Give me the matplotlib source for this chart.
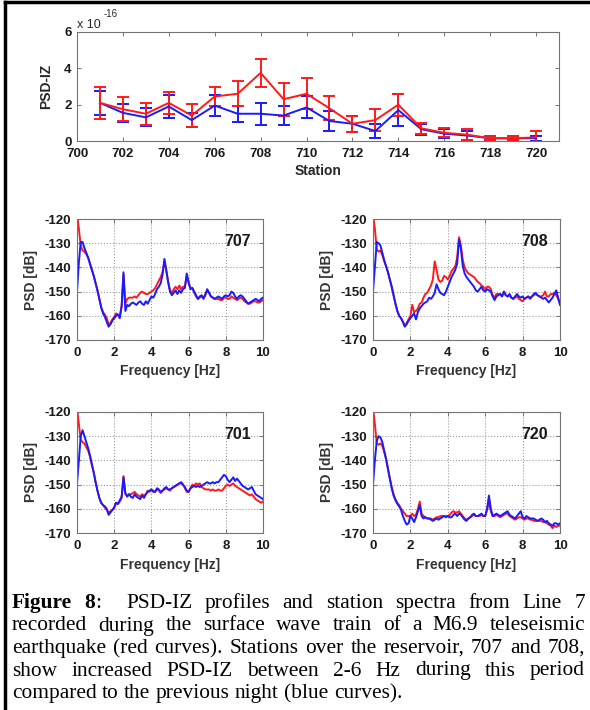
import numpy as np
import matplotlib
matplotlib.use('Agg')
import matplotlib.pyplot as plt
from matplotlib.lines import Line2D

plt.rcParams['font.family'] = ['Liberation Sans', 'DejaVu Sans']
plt.rcParams['axes.unicode_minus'] = False

# ---- PSD-IZ profile along Line 7 (units of 1e-16) ----
stations = list(range(701, 721))
psdiz_red = [2.1, 1.75, 1.5, 2.1, 1.4, 2.45, 2.6, 3.75, 2.3, 2.6,
             1.8, 0.95, 1.15, 2.0, 0.7, 0.45, 0.35, 0.15, 0.15, 0.2]
psdiz_red_err = [0.9, 0.65, 0.6, 0.6, 0.65, 0.55, 0.7, 0.78, 0.9, 0.85,
                 0.65, 0.45, 0.6, 0.6, 0.3, 0.25, 0.3, 0.1, 0.1, 0.35]
psdiz_blue = [2.1, 1.55, 1.3, 1.9, 1.15, 1.95, 1.5, 1.5, 1.4, 1.85,
              1.1, 0.95, 0.55, 1.7, 0.65, 0.4, 0.3, 0.15, 0.15, 0.15]
psdiz_blue_err = [0.65, 0.5, 0.5, 0.65, 0.4, 0.6, 0.45, 0.6, 0.5, 0.6,
                  0.55, 0.45, 0.4, 0.87, 0.3, 0.25, 0.25, 0.1, 0.1, 0.15]

# ---- station spectra, PSD [dB] every 0.1 Hz from 0 to 10 Hz ----
freq = np.round(np.arange(0, 101) * 0.1, 1)

red_707 = [-118, -124, -131, -133, -133.5, -134.5, -136, -138.5, -141, -143.5,
           -146.5, -149.5, -153, -156.5, -158.5, -159.5, -161, -163.5, -163, -161.5,
           -160.5, -159, -159.5, -160, -156, -143, -155, -153, -152.5, -152.5,
           -152.5, -152, -152.5, -151.5, -150.5, -150, -150.5, -151, -151, -150.5,
           -150, -149.5, -148.5, -147, -145.5, -144, -142, -137.5, -141.5, -146,
           -149.5, -150.5, -149, -148, -149, -147.5, -149, -148, -148, -143.5,
           -146.5, -148.5, -148.5, -150.5, -152, -153, -152.5, -152, -152.5, -151,
           -149.5, -150.5, -152, -152.5, -153, -153, -153, -153.5, -153.5, -152.5,
           -152.5, -153, -153, -152, -152.5, -153, -153.5, -153, -152.5, -153,
           -154, -154.5, -155, -155, -154.5, -154, -154, -154.5, -154.5, -154,
           -153.5]
blue_707 = [-150, -138, -129.5, -129.5, -132, -134, -136, -138.5, -141, -143.5,
            -146.5, -149.5, -153, -156.5, -159, -160.5, -162.5, -164.5, -163.5, -162,
            -161, -160, -159.5, -161, -156, -142, -158, -155.5, -156, -155,
            -154.5, -155, -155.5, -154.5, -154, -155, -155.5, -154, -155, -153.5,
            -152, -152.5, -151, -149, -148, -146.5, -143, -136.5, -141, -146,
            -150, -151.5, -150.5, -149.5, -151, -149.5, -150.5, -149, -148.5, -142.5,
            -146, -149, -148.5, -150, -151.5, -153, -152, -151.5, -153, -151.5,
            -149, -150.5, -152, -152.5, -153, -152.5, -152, -152.5, -153, -152,
            -151.5, -152, -151.5, -150, -150.5, -152, -153, -152, -151.5, -152,
            -153, -154, -155, -154.5, -154, -153.5, -153, -153.5, -154, -153,
            -152.5]

red_708 = [-118, -124, -132.5, -133.5, -133, -135, -137.5, -139.5, -142, -145,
           -148, -151.5, -155, -158, -160, -161, -162.5, -164, -163, -161.5,
           -160, -155.5, -158.5, -158, -157, -155, -154.5, -152.5, -151, -150.5,
           -149, -147.5, -145, -137.5, -141, -145, -146, -145.5, -143.5, -144,
           -145, -143.5, -141.5, -140.5, -139.5, -136, -127.5, -131, -137, -140,
           -141.5, -142.5, -143, -143.5, -144, -145, -146, -146.5, -147.5, -148,
           -149, -148, -148, -149, -151.5, -152.5, -151, -151, -151, -152,
           -150, -151.5, -152, -151.5, -152.5, -153, -152.5, -152, -153, -153.5,
           -154, -153, -152.5, -152, -152.5, -152, -151.5, -151, -151.5, -152,
           -152, -151.5, -150, -152, -152, -151, -151, -150.5, -151.5, -153,
           -155]
blue_708 = [-150, -140, -129.5, -130, -131, -134, -137, -139.5, -142, -145,
            -148, -151.5, -155, -158, -160, -161, -162.5, -164.5, -163.5, -162,
            -161, -160, -159, -161.5, -158.5, -157, -156, -155, -154.5, -154,
            -152.5, -153, -152, -150.5, -147, -149, -150.5, -151, -151.5, -150,
            -148, -146, -144, -142.5, -141, -138.5, -128.5, -132, -139.5, -142.5,
            -144, -145, -146, -147, -148, -149.5, -150, -149, -148, -149.5,
            -150, -149, -149.5, -150, -152, -153.5, -152, -151.5, -151, -152,
            -150, -151.5, -152, -151, -152.5, -153, -152, -151, -152, -152.5,
            -152, -153, -152.5, -152, -153, -152, -151, -150.5, -151.5, -152,
            -152.5, -153, -152.5, -153.5, -154.5, -153.5, -152.5, -151, -149.5, -152.5,
            -155.5]

red_701 = [-118, -125, -131.5, -132.5, -133, -134.5, -136, -138.5, -142, -145,
           -149, -152.5, -155.5, -157.5, -158.5, -159.5, -160.5, -161.5, -161, -160.5,
           -159.5, -157.5, -158, -157, -155.5, -146.5, -154, -154.5, -154, -154,
           -153.5, -153, -154, -154.5, -155, -154, -154.5, -154, -152.5, -153,
           -152, -152.5, -153, -152, -152.5, -153.5, -152.5, -152, -151.5, -152,
           -152.5, -151.5, -151, -150.5, -150, -149.5, -149.5, -150, -151.5, -153,
           -153, -151.5, -150, -150.5, -149.5, -150, -149.5, -151, -151.5, -152,
           -152, -152, -152.5, -152, -152.5, -152.5, -152, -152.5, -152.5, -151.5,
           -150.5, -150, -150.5, -150, -149.5, -150.5, -151, -151.5, -152, -152.5,
           -153, -153.5, -154, -154.5, -154, -155, -156, -156.5, -157, -157.5,
           -157]
blue_701 = [-149.5, -140, -130, -127.5, -130, -132.5, -135, -138, -141.5, -145,
            -149, -152.5, -155.5, -157.5, -158.5, -159, -160, -162.5, -161.5, -160.5,
            -159.5, -157.5, -158, -156.5, -155, -147, -153.5, -155, -154, -155,
            -155.5, -154, -155, -155.5, -156, -154.5, -155.5, -154, -153, -152.5,
            -152, -153, -153, -151.5, -152, -153, -152.5, -151.5, -151, -152,
            -152, -151.5, -151, -150.5, -150, -149.5, -149, -150, -151, -152.5,
            -153, -151.5, -151, -150.5, -151, -150.5, -151, -150.5, -150, -149.5,
            -149, -149.5, -149.5, -149, -149.5, -149, -149, -148, -147, -146,
            -146.5, -148, -149, -148, -147, -148.5, -147.5, -148.5, -149.5, -150.5,
            -151, -151.5, -152, -151.5, -151, -152.5, -154, -154.5, -155, -155.5,
            -156]

red_720 = [-118, -125, -133, -133.5, -133, -134, -136.5, -139.5, -143.5, -147.5,
           -151, -154, -156, -157.5, -158.5, -160, -161, -162, -163, -163,
           -163, -162, -163, -162.5, -160, -157, -162, -163, -163.5, -164,
           -164, -164, -164.5, -164, -163.5, -163.5, -163, -163, -163, -163,
           -163, -162.5, -161.5, -161, -161.5, -161.5, -161, -162, -163, -164,
           -164.5, -164, -163.5, -163, -162.5, -163, -163, -163, -162.5, -163,
           -163, -160.5, -157, -161, -163, -163, -162.5, -163, -163.5, -163,
           -162.5, -162, -162, -163, -163.5, -164, -164.5, -164, -163.5, -163.5,
           -164, -164.5, -164, -164, -164.5, -164.5, -165, -165, -165, -165,
           -165, -165.5, -165.5, -166, -166.5, -167, -168, -167, -167.5, -167,
           -167]
blue_720 = [-150, -140, -132, -130, -130.5, -132.5, -136, -139.5, -143.5, -147.5,
            -151.5, -154.5, -156.5, -158, -159, -160.5, -163, -165, -166.5, -166,
            -163, -164, -165.5, -163.5, -161, -158.5, -163, -164, -163.5, -164,
            -164, -164.5, -165, -164.5, -164, -164.5, -164, -163.5, -163, -163.5,
            -163, -163.5, -163.5, -162.5, -162, -163, -162, -162.5, -163.5, -164.5,
            -165, -164, -163.5, -162.5, -162, -163, -163, -162.5, -162, -163,
            -163, -160, -154.5, -160, -163, -162.5, -162, -162.5, -163, -162.5,
            -162, -161.5, -161, -162.5, -163, -163.5, -164, -163, -162, -161,
            -163.5, -164, -163, -163.5, -164, -164, -164, -164.5, -165, -164.5,
            -164, -164.5, -165.5, -165, -166, -166.5, -167, -166, -166, -166.5,
            -166]

caption_lines = [
    "*Figure* *8*:  PSD-IZ profiles and station spectra from Line 7",
    "recorded during the surface wave train of a M6.9 teleseismic",
    "earthquake (red curves). Stations over the reservoir, 707 and 708,",
    "show increased PSD-IZ between 2-6 Hz during this period",
    "compared to the previous night (blue curves).",
]

W, H = 590, 710
fig = plt.figure(figsize=(W / 100, H / 100), dpi=100)


def px_box(l, t, r, b):
    return [l / W, 1 - b / H, (r - l) / W, (b - t) / H]


def matlab_style(ax):
    for s in ax.spines.values():
        s.set_color('0.45')
        s.set_linewidth(0.8)
    ax.tick_params(direction='in', top=True, right=True, length=3, width=0.7,
                   color='0.45', labelsize=9.5, labelcolor='0.1')
    ax.tick_params(axis='x', pad=5)
    ax.tick_params(axis='y', pad=4)
    for lab in ax.get_xticklabels() + ax.get_yticklabels():
        lab.set_fontweight('bold')


# ---- top panel ----
ax = fig.add_axes(px_box(77, 32, 559, 141))
ax.errorbar(stations, psdiz_blue, yerr=psdiz_blue_err, color='#1a1aff', lw=1.4,
            elinewidth=1.4, capsize=4, capthick=1.4)
ax.errorbar(stations, psdiz_red, yerr=psdiz_red_err, color='#ff1a1a', lw=1.4,
            elinewidth=1.4, capsize=4, capthick=1.4)
ax.set_xlim(700, 721)
ax.set_ylim(0, 6)
ax.set_xticks(range(700, 721, 2))
ax.set_yticks([0, 2, 4, 6])
matlab_style(ax)
ax.set_xlabel('Station', fontsize=10, fontweight='bold', color='0.15', labelpad=3)
ax.set_ylabel('PSD-IZ', fontsize=10, fontweight='bold', color='0.15', labelpad=8)
fig.text(77 / W, 1 - 28 / H, 'x 10', fontsize=9, color='0.15')
fig.text(104 / W, 1 - 17 / H, '-16', fontsize=7, color='0.15')

# ---- spectra panels ----
panels = [
    ('707', red_707, blue_707, (77, 219, 263, 340)),
    ('708', red_708, blue_708, (373, 219, 560, 340)),
    ('701', red_701, blue_701, (77, 412, 263, 533)),
    ('720', red_720, blue_720, (373, 412, 560, 533)),
]
for name, red, blue, box in panels:
    ax = fig.add_axes(px_box(*box))
    ax.plot(freq, red, color='#ff1a1a', lw=1.4)
    ax.plot(freq, blue, color='#1a1aff', lw=1.4)
    ax.set_xlim(0, 10)
    ax.set_ylim(-170, -120)
    ax.set_xticks(range(0, 11, 2))
    ax.set_yticks(range(-170, -119, 10))
    ax.grid(True, linestyle=':', color='0.6', lw=0.8)
    matlab_style(ax)
    ax.set_xlabel('Frequency [Hz]', fontsize=10, fontweight='bold', color='0.2', labelpad=4)
    ax.set_ylabel('PSD [dB]', fontsize=10, fontweight='bold', color='0.2', labelpad=5)
    ax.text(9.35, -129.3, name, ha='right', va='center', fontsize=11.5,
            fontweight='bold', color='0.1')

# ---- frame lines ----
fig.add_artist(Line2D([5 / W, 1], [1 - 2 / H, 1 - 2 / H], color='black', lw=2.5,
                      transform=fig.transFigure))
fig.add_artist(Line2D([5 / W, 5 / W], [0, 1 - 2 / H], color='black', lw=2.5,
                      transform=fig.transFigure))

# ---- justified caption ----
renderer = fig.canvas.get_renderer()
cap_size = 15.4
left_px, right_px = 12, 585
baselines = [608, 630.5, 653, 675.5, 698]
space_px = cap_size * 100 / 72 * 0.25

for li, (line, base) in enumerate(zip(caption_lines, baselines)):
    words, gaps, pending = [], [], 0
    for tok in line.split(' '):
        if tok == '':
            pending += 1
            continue
        if words:
            gaps.append(1 + pending)
        pending = 0
        words.append(tok)
    word_items = []
    for w in words:
        parts = w.split('*')
        items = []
        for k, p in enumerate(parts):
            if p == '':
                continue
            t = fig.text(0, 1 - base / H, p, fontsize=cap_size, va='baseline',
                         family='Liberation Serif',
                         fontweight='bold' if k % 2 == 1 else 'normal')
            wpx = t.get_window_extent(renderer).width
            items.append((t, wpx))
        word_items.append(items)
    widths = [sum(x[1] for x in items) for items in word_items]
    last = li == len(caption_lines) - 1
    if last:
        unit = space_px
    else:
        unit = (right_px - left_px - sum(widths)) / sum(gaps)
    x = left_px
    for wi, items in enumerate(word_items):
        for t, wpx in items:
            t.set_x(x / W)
            x += wpx
        if wi < len(gaps):
            x += unit * gaps[wi]

fig.savefig('out.png', dpi=100)
